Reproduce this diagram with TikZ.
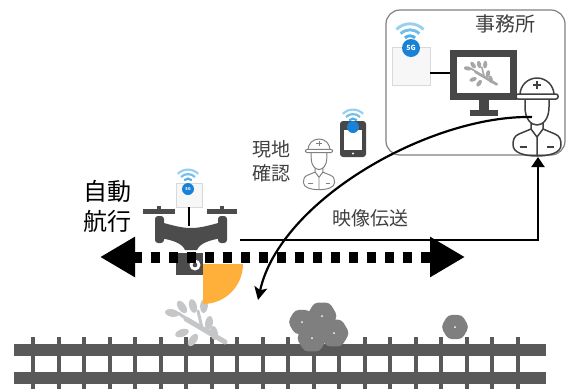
\documentclass[tikz,border=0pt]{standalone}
\usepackage{fontspec}
\setmainfont{Noto Sans CJK JP}
\usetikzlibrary{arrows.meta,shapes.geometric}
\definecolor{railgray}{RGB}{89,89,89}
\definecolor{rockgray}{RGB}{127,127,127}
\definecolor{leafgray}{RGB}{196,198,200}
\definecolor{camorange}{RGB}{255,176,59}
\definecolor{wifiblue}{RGB}{80,175,230}
\definecolor{dotblue}{RGB}{25,130,215}
\definecolor{textgray}{RGB}{64,64,64}

\begin{document}
\begin{tikzpicture}[x=1pt,y=-1pt,
        rail/.style={fill=railgray},
        rock/.style={regular polygon,regular polygon sides=6,fill=rockgray,
            rounded corners=4pt,inner sep=0pt},
        router/.style={fill=black!3,draw=black!15,line width=.6},
        fivegee/.style={circle,fill=dotblue,text=white,inner sep=0pt,
            font=\bfseries\fontsize{7}{7}\selectfont},
        route/.style={line width=11,dash pattern=on 9 off 9,
            {Triangle[length=35pt,width=38pt]}-{Triangle[length=35pt,width=38pt]}},
        uplink/.style={line width=2,-{Triangle[length=10pt,width=13pt]}},
        reply/.style={line width=2.2,-{Stealth[length=13pt,width=13pt,inset=3pt]}}]
        \useasboundingbox (0,0) rectangle (566,389);

        % track
        \fill[rail] (14,344) rectangle (546,356);
        \fill[rail] (14,372) rectangle (546,384);
        \foreach \i in {0,...,19}
            \fill[rail] ({31+25.5*\i},337) rectangle +(4,52);

        % office
        \draw[black!50,line width=1.2,rounded corners=14pt] (386,10) rectangle (565,155);
        \node[font=\fontsize{20}{20}\selectfont,text=textgray] (office) at (505,24) {事務所};
        \fill[black!72] (450,50) rectangle (517,100);
        \fill[white] (457,57) rectangle (510,93);
        \fill[black!72] (479,100) rectangle (489,110);
        \fill[black!72] (470,110) rectangle (498,116);
        \draw[router] (392,47) rectangle (430,85);
        \draw[line width=1.5] (430,73) -- (450,73);

        % branches, on the track and on the screen
        \foreach \x/\y/\s/\c in {200/325/1/leafgray, 483/75/.55/black!35} {
            \scope[shift={(\x,\y)},scale=\s,fill=\c,draw=\c]
                \draw[line width=5*\s,line cap=round] (-14,-6) -- (25,17);
                \draw[line width=3*\s,line cap=round] (-4,0) -- (-22,-12);
                \draw[line width=3*\s,line cap=round] (2,3) -- (-2,-14);
                \foreach \lx/\ly/\a in {-28/-12/-10,-18/-18/-55,-7/-19/-75,4/-19/-95,
                        9/-2/-100,-18/8/20,-7/15/55,14/8/-80} {
                    \fill[rotate around={\a:(\lx,\ly)}] (\lx,\ly) ellipse (7 and 3.8);
                }
            \endscope
        }

        % rocks
        \foreach \x/\y/\r [count=\n] in {302/322/28,322/316/31,334/333/31,312/338/31,455/327/28} {
            \node[rock,minimum size=\r pt] (rock\n) at (\x,\y) {};
        }
        \foreach \n in {1,...,5}
            \fill[white] (rock\n.center) circle (1);

        % drone
        \fill[camorange] (203,264) -- (243,264) arc[start angle=0,end angle=90,radius=40] -- cycle;
        \draw[router] (176,183) rectangle (202,207);
        \draw[line width=1.2] (189,207) -- (189,226);
        \fill[black!70] (143,209) rectangle (175,214);
        \fill[black!70] (207,209) rectangle (237,214);
        \fill[black!70] (157,206) rectangle (161,209);
        \fill[black!70] (220,206) rectangle (224,209);
        \fill[black!70,rounded corners=3pt] (155,216) rectangle (164,243);
        \fill[black!70,rounded corners=3pt] (218,216) rectangle (227,243);
        \fill[black!70] (160,222) .. controls (175,226) and (182,228) .. (191,228)
            .. controls (200,228) and (207,226) .. (222,222) -- (222,238)
            .. controls (210,240) and (200,243) .. (197,250) -- (185,250)
            .. controls (182,243) and (172,240) .. (160,238) -- cycle;
        \fill[black!70] (176,253) rectangle (203,275);
        \fill[white] (195,265) circle (5.5);
        \fill[black!70] (195,265) circle (2.3);

        % phone
        \fill[black!72,rounded corners=3pt] (340,121) rectangle (366,157);
        \fill[white] (344,130) rectangle (362,150);
        \fill[white] (353,153.5) circle (1.2);

        % wifi signals
        \foreach \x/\y/\s in {410/43/1.2, 188/184/.9, 353/124/.9} {
            \scope[shift={(\x,\y)},scale=\s]
                \foreach \r/\o in {6/100,11/80,16/60}
                    \draw[wifiblue!\o,line width=2.4*\s] (225:\r) arc[start angle=225,end angle=315,radius=\r];
            \endscope
        }
        \node[fivegee,minimum size=18pt] (g5) at (411,48) {5G};
        \node[fivegee,minimum size=12pt,font=\bfseries\fontsize{4}{4}\selectfont] (g5d) at (188,189) {5G};
        \node[fivegee,minimum size=12pt] (g5p) at (353,127) {};

        % workers
        \foreach \x/\y/\s/\c in {537/95/1/black!75, 319/150/.65/black!50} {
            \scope[shift={(\x,\y)},scale=\s,draw=\c,line width=1.5*\s,line join=round]
                \filldraw[fill=white] (-17,0) arc[start angle=180,end angle=360,radius=17] -- cycle;
                \draw (-4,-10) -- (4,-10) (0,-14) -- (0,-6);
                \filldraw[fill=white,rounded corners=2] (-21,-1) rectangle (21,4);
                \draw (-12,4) -- (-12,12) .. controls (-12,24) and (-6,30) .. (0,30)
                    .. controls (6,30) and (12,24) .. (12,12) -- (12,4);
                \draw (-6,28) -- (-6,34) -- (-18,39) .. controls (-23,41) and (-24,45) .. (-24,50)
                    .. controls (-24,58) and (-12,61) .. (0,61) .. controls (12,61) and (24,58) .. (24,50)
                    .. controls (24,45) and (23,41) .. (18,39) -- (6,34) -- (6,28);
                \draw (-6,34) -- (0,42) -- (6,34) (0,42) -- (0,61);
                \draw (-17,52) -- (-10,52) (10,52) -- (17,52);
            \endscope
        }

        % labels
        \node[font=\fontsize{24}{30}\selectfont,align=center] (auto) at (107,206) {自動\\航行};
        \node[font=\fontsize{19}{24}\selectfont,align=center,text=textgray] (check) at (271,161) {現地\\確認};
        \node[font=\fontsize{19}{19}\selectfont,text=textgray] (feed) at (370,218) {映像伝送};

        % links
        \coordinate (drone) at (240,240);
        \coordinate (chief) at (538,157);
        \coordinate (face) at (532,117);
        \coordinate (site) at (258,300);
        \coordinate (fw) at (100,257);
        \coordinate (fe) at (465,257);
        \draw[uplink] (drone) -| (chief);
        \draw[reply] (face) .. controls (430,115) and (280,200) .. (site);
        \draw[route] (fw) -- (fe);
\end{tikzpicture}
\end{document}
